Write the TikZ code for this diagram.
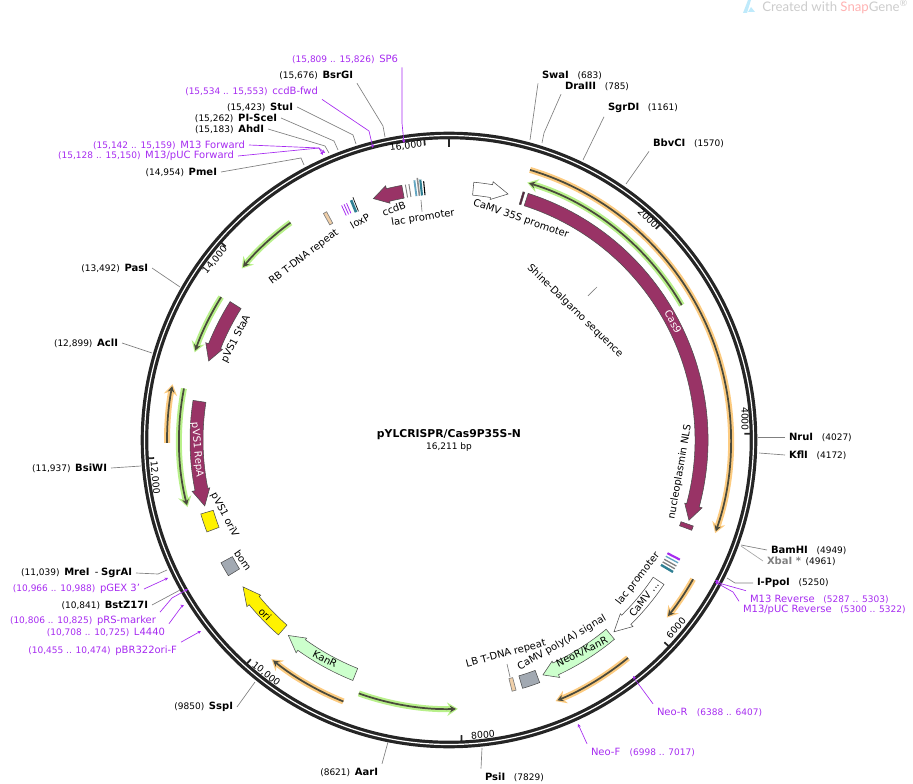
\documentclass[tikz,border=0pt]{standalone}
\usepackage{fontspec}
\setmainfont{DejaVu Sans}
\newfontfamily\markfont{Lato}
\usetikzlibrary{arrows.meta}
\definecolor{plum}{HTML}{993366}
\definecolor{ringdark}{HTML}{252525}
\definecolor{leadgrey}{HTML}{808080}
\definecolor{primerpurple}{HTML}{A62BF0}
\definecolor{hiorange}{HTML}{FCCB80}
\definecolor{higreen}{HTML}{B8F08A}
\definecolor{arcdark}{HTML}{4A4A3C}
\definecolor{mintfill}{HTML}{CCFFCC}
\definecolor{boxgrey}{HTML}{A2A9B2}
\definecolor{tanfill}{HTML}{F0CFA8}
\definecolor{tealbar}{HTML}{2F7F93}
\tikzset{
    site/.style={font=\fontsize{7.5}{9}\selectfont, inner sep=0pt, outer sep=3pt},
    primerlabel/.style={site, text=primerpurple},
    leader/.style={draw=leadgrey, line width=0.5pt},
    primerlead/.style={draw=primerpurple, line width=0.5pt, -{Stealth[length=2.5pt, width=2.5pt]}},
    feature/.style={font=\fontsize{7.5}{9}\selectfont, inner sep=1pt},
    ticklabel/.style={font=\fontsize{7}{8}\selectfont, inner sep=0pt},
    edgeline/.style={draw=black!70, line width=0.4pt},
}
\newcommand{\bpnum}[1]{{\fontsize{6.75}{8}\selectfont #1}}
\newcommand{\nameL}[2]{\bpnum{#1}\hspace{3.5pt}\textbf{#2}}
\newcommand{\nameR}[2]{\textbf{#1}\hspace{6.5pt}\bpnum{#2}}
% tail angle, angle of the wings, angle of the tip
\newcommand{\featarrow}[4]{\draw[#1] (#2:259) arc[start angle=#2, end angle=#3, radius=259] -- (#3:262) -- (#4:253) -- (#3:244) -- (#3:246) arc[start angle=#3, end angle=#2, radius=246] -- cycle;}
\newcommand{\featbox}[3]{\draw[#1] (#2:259) arc[start angle=#2, end angle=#3, radius=259] -- (#3:246) arc[start angle=#3, end angle=#2, radius=246] -- cycle;}
\newcommand{\primerarc}[4]{
    \draw[line width=4.5pt, #1, -{Stealth[length=8pt, width=10pt]}] (#3:#2) arc[start angle=#3, end angle=#4, radius=#2];
    \draw[line width=1.3pt, arcdark, shorten >=1.5pt, -{Stealth[length=4.5pt, width=5pt]}] (#3:#2) arc[start angle=#3, end angle=#4, radius=#2];
}
\begin{document}
\begin{tikzpicture}[x=0.75pt, y=-0.75pt]
    \useasboundingbox (0, 0) rectangle (913, 784);
    \begin{scope}[shift={(449, 440)}, y=0.75pt]
        % ring and ticks
        \draw[ringdark, line width=5.7pt] (0, 0) circle (304.5);
        \draw[white, line width=0.9pt] (0, 0) circle (304.5);
        \draw[ringdark, line width=2pt] (90:293) -- (90:303);
        \foreach \ang in {45.6, 1.2, -43.2, -87.6, -132.1, -176.5, 139.1, 94.7} {
            \draw[ringdark, line width=1.3pt] (\ang:295.5) -- (\ang:303);
        }
        % primer style arcs
        \primerarc{hiorange}{282}{73.3}{-19.3}
        \primerarc{higreen}{269}{30.1}{73.1}
        \primerarc{hiorange}{281}{-29.7}{-39.2}
        \primerarc{hiorange}{282}{-50.6}{-67.8}
        \primerarc{higreen}{269}{-109.6}{-88.1}
        \primerarc{hiorange}{282}{248}{231}
        \primerarc{hiorange}{282}{180.6}{168.6}
        \primerarc{higreen}{270}{169}{194.4}
        \primerarc{higreen}{269}{147.9}{161}
        \primerarc{higreen}{269}{126.1}{140.4}
        % features
        \featarrow{edgeline, fill=plum}{72.2}{-15}{-18.5}
        \featbox{edgeline, fill=plum!60!black}{73.4}{73}
        \featbox{edgeline, fill=plum}{-19.4}{-20.4}
        \featarrow{edgeline, fill=plum}{147.7}{158.2}{161.8}
        \featarrow{edgeline, fill=plum}{171.2}{191.3}{195.1}
        \featarrow{edgeline, fill=plum}{100.5}{104}{107.4}
        \featbox{edgeline, fill=yellow}{196.6}{200.8}
        \featbox{edgeline, fill=boxgrey}{208.3}{211.6}
        \featarrow{edgeline, fill=yellow}{228.8}{219.5}{215.5}
        \featarrow{edgeline, fill=mintfill}{248.2}{234.3}{230.6}
        \featarrow{edgeline, fill=mintfill}{-50.3}{-65}{-68.2}
        \featarrow{edgeline, fill=white}{-33.9}{-45.4}{-49.3}
        \featarrow{edgeline, fill=white}{84.5}{80.3}{76.5}
        \featbox{edgeline, fill=boxgrey}{-69.5}{-73.5}
        \featbox{leader, fill=tanfill}{-75}{-75.9}
        \featbox{leader, fill=tanfill}{118.2}{119}
        % loxP and the two lac promoters
        \foreach \ang in {114.6, 114, 113.4} {
            \draw[primerpurple, line width=0.6pt] (\ang:247) -- (\ang:258);
        }
        \draw[tealbar, line width=2pt] (112.2:246) -- (112.2:259);
        \draw[black, line width=0.5pt] (111.6:246) -- (111.6:261);
        \foreach \ang/\col/\wid/\top in {99.7/gray/0.7/259, 98.9/gray/0.7/259, 97.6/cyan!50!gray/1.4/262, 96.9/black!45/1.2/264, 96.3/tealbar/1.6/262, 95.6/black/0.8/260} {
            \draw[\col, line width=\wid pt] (\ang:246) -- (\ang:\top);
        }
        \foreach \ang/\col/\wid in {-27.4/primerpurple/1.6, -28.2/cyan!50!gray/1, -29/black!50/1, -29.7/black!50/1, -30.5/tealbar/1.8} {
            \draw[\col, line width=\wid pt] (\ang:246) -- (\ang:260);
        }
    \end{scope}
    % tick labels
    \node[ticklabel, rotate=-45] (tick2) at (648, 218) {2000};
    \node[ticklabel, rotate=-90] (tick4) at (745, 419) {4000};
    \node[ticklabel, rotate=48] (tick6) at (676, 628) {6000};
    \node[ticklabel, rotate=5] (tick8) at (483, 735) {8000};
    \node[ticklabel, rotate=-38] (tick10) at (266, 674) {10,000};
    \node[ticklabel, rotate=-85] (tick12) at (155, 478) {12,000};
    \node[ticklabel, rotate=50] (tick14) at (215, 260) {14,000};
    \node[ticklabel, rotate=7] (tick16) at (406, 146) {16,000};
    % feature labels
    \node[feature, rotate=-19] (lbl35S) at (521, 219) {CaMV 35S promoter};
    \node[feature, rotate=-44] (lblShine) at (575, 311) {Shine-Dalgarno sequence};
    \node[feature, rotate=-62, text=white] (lblCas) at (673, 322) {Cas9};
    \node[feature, rotate=80] (lblNLS) at (680, 472) {nucleoplasmin NLS};
    \node[feature, rotate=-85, text=white] (lblRepA) at (197, 450) {pVS1 RepA};
    \node[feature, rotate=-63] (lblOriV) at (224.5, 515) {pVS1 oriV};
    \node[feature, rotate=-55] (lblBom) at (243, 560) {bom};
    \node[feature, rotate=-45] (lblOri) at (265, 614) {ori};
    \node[feature, rotate=-27] (lblKan) at (325, 659) {KanR};
    \node[feature, rotate=26] (lblNeo) at (582, 652) {NeoR/KanR};
    \node[feature, rotate=52] (lblCamv) at (644, 599) {CaMV ...};
    \node[feature, rotate=52] (lblLacB) at (638, 579) {lac promoter};
    \node[feature, rotate=30] (lblPolyA) at (562, 643) {CaMV poly(A) signal};
    \node[feature, rotate=15] (lblLB) at (506, 654) {LB T-DNA repeat};
    \node[feature, rotate=37] (lblRB) at (304, 257) {RB T-DNA repeat};
    \node[feature, rotate=30] (lblLox) at (360, 221) {loxP};
    \node[feature, rotate=20] (lblCcdB) at (394, 209) {ccdB};
    \node[feature, rotate=9] (lblLacT) at (423, 218) {lac promoter};
    \node[feature, rotate=63] (lblStaA) at (236, 339) {pVS1 StaA};
    \coordinate (endShine) at (597, 287);
    \coordinate (endLB) at (510, 677);
    \coordinate (endLacT) at (421, 200);
    \draw[leader] (lblShine.north) ++(8.5, -10.5) -- (endShine);
    \draw[leader] (507, 664) -- (endLB);
    \draw[leader] (lblLacT.north) -- (endLacT);
    % title
    \node[font=\bfseries\fontsize{8.1}{9}\selectfont, inner sep=0pt] (title) at (449, 435) {pYLCRISPR/Cas9P35S-N};
    \node[font=\fontsize{6.75}{8}\selectfont, inner sep=0pt] (size) at (449, 447) {16,211 bp};
    % site labels on the left
    \node[primerlabel, anchor=east] (nSP6) at (402, 59) {\bpnum{(15,809 .. 15,826)}\hspace{3.5pt}SP6};
    \node[site, anchor=east] (nBsrGI) at (357, 75) {\nameL{(15,676)}{BsrGI}};
    \node[primerlabel, anchor=east] (nCcdF) at (322, 91) {\bpnum{(15,534 .. 15,553)}\hspace{3.5pt}ccdB-fwd};
    \node[site, anchor=east] (nStuI) at (297, 107) {\nameL{(15,423)}{StuI}};
    \node[site, anchor=east] (nPISceI) at (281, 118) {\nameL{(15,262)}{PI-SceI}};
    \node[site, anchor=east] (nAhdI) at (268, 129) {\nameL{(15,183)}{AhdI}};
    \node[primerlabel, anchor=east] (nM13F) at (249, 145) {\bpnum{(15,142 .. 15,159)}\hspace{3.5pt}M13 Forward};
    \node[primerlabel, anchor=east] (nPucF) at (238, 156) {\bpnum{(15,128 .. 15,150)}\hspace{3.5pt}M13/pUC Forward};
    \node[site, anchor=east] (nPmeI) at (221, 172) {\nameL{(14,954)}{PmeI}};
    \node[site, anchor=east] (nPasI) at (152, 268) {\nameL{(13,492)}{PasI}};
    \node[site, anchor=east] (nAclI) at (122, 343) {\nameL{(12,899)}{AclI}};
    \node[site, anchor=east] (nBsiWI) at (111, 468) {\nameL{(11,937)}{BsiWI}};
    \node[site, anchor=east] (nMreI) at (136, 573) {\nameL{(11,039)}{MreI}\hspace{4pt}-\hspace{2pt}\textbf{SgrAI}};
    \node[primerlabel, anchor=east] (nGex) at (144, 589) {\bpnum{(10,966 .. 10,988)}\hspace{3.5pt}pGEX 3'};
    \node[site, anchor=east] (nBstZ) at (152, 605) {\nameL{(10,841)}{BstZ17I}};
    \node[primerlabel, anchor=east] (nPrs) at (160, 621) {\bpnum{(10,806 .. 10,825)}\hspace{3.5pt}pRS-marker};
    \node[primerlabel, anchor=east] (nL4440) at (169, 632) {\bpnum{(10,708 .. 10,725)}\hspace{3.5pt}L4440};
    \node[primerlabel, anchor=east] (nPbr) at (181, 651) {\bpnum{(10,455 .. 10,474)}\hspace{3.5pt}pBR322ori-F};
    \node[site, anchor=east] (nSspI) at (237, 707) {\nameL{(9850)}{SspI}};
    \node[site, anchor=east] (nAarI) at (382, 772) {\nameL{(8621)}{AarI}};
    % site labels on the right
    \node[site, anchor=west] (nPsiI) at (481, 777) {\nameR{PsiI}{(7829)}};
    \node[site, anchor=west] (nSwaI) at (538, 75) {\nameR{SwaI}{(683)}};
    \node[site, anchor=west] (nDraIII) at (561, 86) {\nameR{DraIII}{(785)}};
    \node[site, anchor=west] (nSgrDI) at (604, 108) {\nameR{SgrDI}{(1161)}};
    \node[site, anchor=west] (nBbvCI) at (649, 143) {\nameR{BbvCI}{(1570)}};
    \node[site, anchor=west] (nNruI) at (785, 437) {\nameR{NruI}{(4027)}};
    \node[site, anchor=west] (nKflI) at (785, 455) {\nameR{KflI}{(4172)}};
    \node[site, anchor=west] (nBamHI) at (767, 550) {\nameR{BamHI}{(4949)}};
    \node[site, anchor=west] (nXbaI) at (763, 561) {\textcolor{gray}{\textbf{XbaI *}}\hspace{3.5pt}\bpnum{(4961)}};
    \node[site, anchor=west] (nPpoI) at (753, 583) {\nameR{I-PpoI}{(5250)}};
    \node[primerlabel, anchor=west] (nM13R) at (746, 599) {M13 Reverse\hspace{6.5pt}\bpnum{(5287 .. 5303)}};
    \node[primerlabel, anchor=west] (nPucR) at (739, 610) {M13/pUC Reverse\hspace{6.5pt}\bpnum{(5300 .. 5322)}};
    \node[primerlabel, anchor=west] (nNeoR) at (653, 712) {Neo-R\hspace{7pt}\bpnum{(6388 .. 6407)}};
    \node[primerlabel, anchor=west] (nNeoF) at (587, 752) {Neo-F\hspace{7pt}\bpnum{(6998 .. 7017)}};
    % where the leaders end
    \coordinate (pSP6) at (404, 143);
    \coordinate (pBsrGI) at (385, 137);
    \coordinate (pCcdF) at (373, 148);
    \coordinate (pStuI) at (356, 144);
    \coordinate (pPISceI) at (338, 150);
    \coordinate (pAhdI) at (329, 153);
    \coordinate (pM13F) at (325, 153);
    \coordinate (pPucF) at (323, 155);
    \coordinate (pPmeI) at (304, 165);
    \coordinate (pPasI) at (180, 287);
    \coordinate (pAclI) at (152, 353);
    \coordinate (pBsiWI) at (141, 466);
    \coordinate (pMreI) at (167, 570);
    \coordinate (pGex) at (168, 578);
    \coordinate (pBstZ) at (180, 590);
    \coordinate (pPrs) at (188, 589);
    \coordinate (pL4440) at (184, 605);
    \coordinate (pPbr) at (201, 631);
    \coordinate (pSspI) at (255, 682);
    \coordinate (pAarI) at (388, 742);
    \coordinate (pPsiI) at (482, 748);
    \coordinate (pSwaI) at (530, 140);
    \coordinate (pDraIII) at (542, 143);
    \coordinate (pSgrDI) at (583, 160);
    \coordinate (pBbvCI) at (626, 184);
    \coordinate (pNruI) at (758, 437);
    \coordinate (pKflI) at (759, 453);
    \coordinate (pBamHI) at (741, 545);
    \coordinate (pXbaI) at (741, 546);
    \coordinate (pPpoI) at (727, 578);
    \coordinate (pM13R) at (715, 580);
    \coordinate (pPucR) at (715, 582);
    \coordinate (pNeoR) at (633, 676);
    \coordinate (pNeoF) at (578, 724);
    \draw[primerlead] (nSP6.south east) -- (402, 123) -- (pSP6);
    \draw[leader] (nBsrGI.south east) -- (383, 126) -- (pBsrGI);
    \draw[primerlead] (nCcdF.south east) -- (369, 131) -- (pCcdF);
    \draw[leader] (nStuI.east) -- (353, 135) -- (pStuI);
    \draw[leader] (nPISceI.east) -- (334, 141) -- (pPISceI);
    \draw[leader] (nAhdI.east) -- (325, 146) -- (pAhdI);
    \draw[primerlead] (nM13F.east) -- (319, 148) -- (pM13F);
    \draw[primerlead] (nPucF.east) -- (319, 148) -- (pPucF);
    \draw[leader] (nPmeI.east) -- (301, 158) -- (pPmeI);
    \draw[leader] (nPasI.east) -- (pPasI);
    \draw[leader] (nAclI.east) -- (pAclI);
    \draw[leader] (nBsiWI.east) -- (pBsiWI);
    \draw[leader] (nMreI.east) -- (158, 574) -- (pMreI);
    \draw[primerlead] (nGex.east) -- (pGex);
    \draw[leader] (nBstZ.east) -- (pBstZ);
    \draw[primerlead] (nPrs.north east) -- (172, 598) -- (pPrs);
    \draw[primerlead] (nL4440.north east) -- (182, 606) -- (pL4440);
    \draw[primerlead] (nPbr.north east) -- (pPbr);
    \draw[leader] (nSspI.east) -- (pSspI);
    \draw[leader] (nAarI.north east) -- (pAarI);
    \draw[leader] (nPsiI.north west) -- (pPsiI);
    \draw[leader] (nSwaI.south west) -- (pSwaI);
    \draw[leader] (nDraIII.south west) -- (544, 133) -- (pDraIII);
    \draw[leader] (nSgrDI.south west) -- (pSgrDI);
    \draw[leader] (nBbvCI.south west) -- (pBbvCI);
    \draw[leader] (nNruI.west) -- (pNruI);
    \draw[leader] (nKflI.west) -- (pKflI);
    \draw[leader] (nBamHI.west) -- (pBamHI);
    \draw[leader, draw=leadgrey!70] (nXbaI.west) -- (pXbaI);
    \draw[leader] (nPpoI.west) -- (735, 583) -- (pPpoI);
    \draw[primerlead] (nM13R.north west) -- (722, 584) -- (pM13R);
    \draw[primerlead] (nPucR.north west) -- (733, 592) -- (pPucR);
    \draw[primerlead] (nNeoR.north west) -- (637, 682) -- (pNeoR);
    \draw[primerlead] (nNeoF.north west) -- (pNeoF);
    % watermark
    \fill[cyan!25] (743, 13) -- (748, 0) -- (751, 0) -- (747, 13) -- cycle;
    \fill[cyan!25] (748, 12) -- (751, 7) -- (755, 12) -- cycle;
    \node[font=\markfont\fontsize{9.9}{12}\selectfont, text=black!20, anchor=west, inner sep=0pt] (mark) at (762, 7) {Created with \textcolor{red!30}{Snap}Gene\textsuperscript{®}};
\end{tikzpicture}
\end{document}
